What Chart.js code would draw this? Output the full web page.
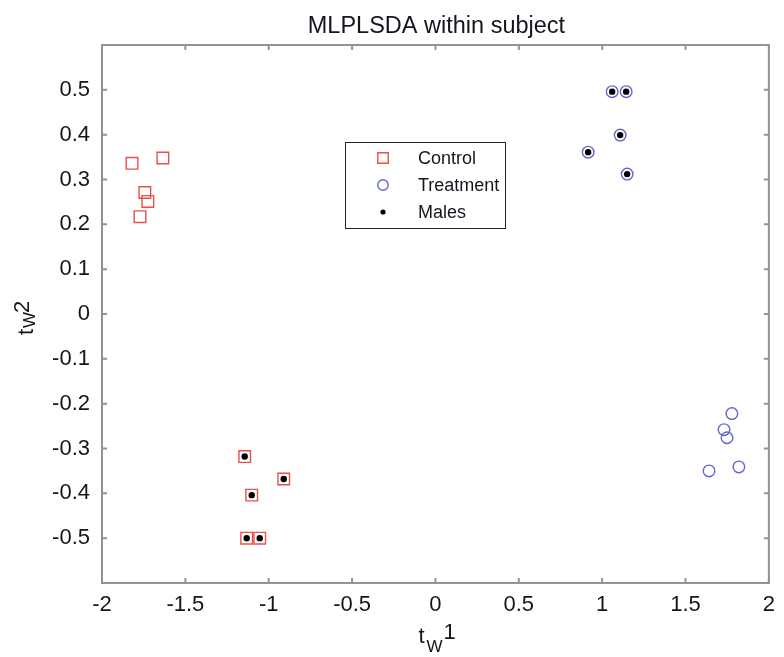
<!DOCTYPE html>
<html>
<head>
<meta charset="utf-8">
<script src="https://cdn.jsdelivr.net/npm/chart.js@4.4.1/dist/chart.umd.min.js"></script>
<style>
  html, body { margin: 0; padding: 0; background: #fff; }
  #wrap { width: 784px; height: 657px; }
</style>
</head>
<body>
<div id="wrap"><canvas id="chart" width="784" height="657"></canvas></div>
<script>
// Values
const controlX = [-1.82, -1.635, -1.743, -1.725, -1.772, -1.144, -0.91, -1.102, -1.132, -1.054];
const controlY = [0.336, 0.348, 0.271, 0.251, 0.217, -0.318, -0.368, -0.404, -0.5, -0.5];
const controlMale = [0, 0, 0, 0, 0, 1, 1, 1, 1, 1];

const treatX = [1.06, 1.144, 1.108, 0.916, 1.15, 1.778, 1.731, 1.749, 1.641, 1.82];
const treatY = [0.496, 0.496, 0.399, 0.361, 0.312, -0.222, -0.258, -0.276, -0.35, -0.341];
const treatMale = [1, 1, 1, 1, 1, 0, 0, 0, 0, 0];

const xTicks = [-2, -1.5, -1, -0.5, 0, 0.5, 1, 1.5, 2];
const yTicks = [-0.5, -0.4, -0.3, -0.2, -0.1, 0, 0.1, 0.2, 0.3, 0.4, 0.5];

const FONT = "'Liberation Sans', Arial, sans-serif";
const TEXT = '#15151f';
const AXIS = '#939393';
const RED = 'rgb(232, 80, 76)';
const BLUE = 'rgb(96, 104, 200)';

function toPoints(xs, ys) {
    return xs.map((x, i) => ({ x: x, y: ys[i] }));
}

// male points sit on top of the control/treatment marker
const malePoints = toPoints(controlX, controlY).filter((p, i) => controlMale[i])
    .concat(toPoints(treatX, treatY).filter((p, i) => treatMale[i]));

// Box with inner ticks, axis titles, title and legend
const decorations = {
    id: 'decorations',
    afterDraw(chart) {
        const ctx = chart.ctx;
        const a = chart.chartArea;
        const xs = chart.scales.x, ys = chart.scales.y;
        ctx.save();
        ctx.strokeStyle = AXIS;
        ctx.lineWidth = 2;
        ctx.strokeRect(a.left, a.top, a.right - a.left, a.bottom - a.top);
        ctx.beginPath();
        xTicks.forEach(v => {
            const px = xs.getPixelForValue(v);
            ctx.moveTo(px, a.bottom); ctx.lineTo(px, a.bottom - 5);
            ctx.moveTo(px, a.top); ctx.lineTo(px, a.top + 5);
        });
        yTicks.forEach(v => {
            const py = ys.getPixelForValue(v);
            ctx.moveTo(a.left, py); ctx.lineTo(a.left + 5, py);
            ctx.moveTo(a.right, py); ctx.lineTo(a.right - 5, py);
        });
        ctx.stroke();

        // title
        ctx.fillStyle = TEXT;
        ctx.textAlign = 'center';
        ctx.textBaseline = 'alphabetic';
        ctx.font = '23.5px ' + FONT;
        ctx.fillText('MLPLSDA within subject', (a.left + a.right) / 2 + 1, 33);

        // x axis title  t_W 1
        const cx = (a.left + a.right) / 2;
        ctx.textAlign = 'left';
        ctx.font = '22px ' + FONT;
        ctx.fillText('t', cx - 17, 643);
        ctx.font = '17px ' + FONT;
        ctx.fillText('W', cx - 9, 652);
        ctx.font = '22px ' + FONT;
        ctx.fillText('1', cx + 8, 639);

        // y axis title  t_W 2 (rotated)
        ctx.save();
        ctx.translate(33, (a.top + a.bottom) / 2 + 21);
        ctx.rotate(-Math.PI / 2);
        ctx.font = '22px ' + FONT;
        ctx.fillText('t', 0, 0);
        ctx.font = '17px ' + FONT;
        ctx.fillText('W', 7, 2);
        ctx.font = '22px ' + FONT;
        ctx.fillText('2', 22, -4);
        ctx.restore();

        // legend box
        const lx = 345, ly = 142, lw = 160, lh = 86;
        ctx.fillStyle = '#fff';
        ctx.fillRect(lx, ly, lw, lh);
        ctx.strokeStyle = '#222';
        ctx.lineWidth = 1;
        ctx.strokeRect(lx + 0.5, ly + 0.5, lw, lh);
        const items = chart.data.datasets.slice().sort((p, q) => p.legendIndex - q.legendIndex);
        items.forEach((ds, i) => {
            const my = ly + 16 + i * 27;
            const mx = lx + 38;
            ctx.lineWidth = ds.pointBorderWidth;
            ctx.strokeStyle = ds.pointBorderColor;
            ctx.fillStyle = ds.pointBackgroundColor;
            Chart.helpers.drawPoint(ctx, {
                pointStyle: ds.pointStyle,
                radius: ds.legendRadius,
                borderWidth: ds.pointBorderWidth
            }, mx, my);
            ctx.fillStyle = TEXT;
            ctx.font = '18px ' + FONT;
            ctx.textAlign = 'left';
            ctx.textBaseline = 'middle';
            ctx.fillText(ds.label, lx + 73, my + 1);
        });
        ctx.restore();
    }
};

const ctx = document.getElementById('chart').getContext('2d');
new Chart(ctx, {
    type: 'scatter',
    data: {
        datasets: [
            {
                label: 'Males',
                data: malePoints,
                order: 0,
                legendIndex: 2,
                pointStyle: 'circle',
                pointRadius: 3.2,
                legendRadius: 2.6,
                pointBorderWidth: 0,
                pointBackgroundColor: '#000',
                pointBorderColor: '#000'
            },
            {
                label: 'Control',
                data: toPoints(controlX, controlY),
                order: 1,
                legendIndex: 0,
                pointStyle: 'rect',
                pointRadius: 8.2,
                legendRadius: 7.4,
                pointBorderWidth: 1.4,
                pointBackgroundColor: 'rgba(0,0,0,0)',
                pointBorderColor: RED
            },
            {
                label: 'Treatment',
                data: toPoints(treatX, treatY),
                order: 1,
                legendIndex: 1,
                pointStyle: 'circle',
                pointRadius: 5.8,
                legendRadius: 5.2,
                pointBorderWidth: 1.4,
                pointBackgroundColor: 'rgba(0,0,0,0)',
                pointBorderColor: BLUE
            }
        ]
    },
    options: {
        responsive: false,
        animation: false,
        layout: { padding: { top: 45, right: 14, left: 0, bottom: 0 } },
        plugins: {
            legend: { display: false },
            tooltip: { enabled: false },
            title: { display: false }
        },
        scales: {
            x: {
                type: 'linear',
                min: -2,
                max: 2,
                afterBuildTicks: s => { s.ticks = xTicks.map(v => ({ value: v })); },
                afterFit: s => { s.height = 74; },
                grid: { display: false, drawTicks: false },
                border: { display: false },
                ticks: {
                    padding: 9,
                    color: TEXT,
                    font: { family: FONT, size: 22 },
                    maxRotation: 0,
                    callback: v => String(v)
                }
            },
            y: {
                type: 'linear',
                min: -0.6,
                max: 0.6,
                afterBuildTicks: s => { s.ticks = yTicks.map(v => ({ value: v })); },
                afterFit: s => { s.width = 102; },
                grid: { display: false, drawTicks: false },
                border: { display: false },
                ticks: {
                    padding: 12,
                    color: TEXT,
                    font: { family: FONT, size: 22 },
                    callback: v => String(Math.round(v * 10) / 10)
                }
            }
        }
    },
    plugins: [decorations]
});
</script>
</body>
</html>
